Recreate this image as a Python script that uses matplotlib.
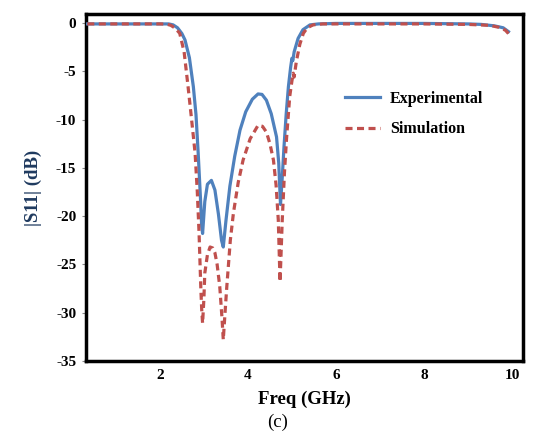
import matplotlib
matplotlib.use('Agg')
import matplotlib.pyplot as plt

plt.rcParams['axes.unicode_minus'] = False

# Experimental |S11|
f_exp = [0.35, 1.0, 2.0, 2.2, 2.3, 2.4, 2.5, 2.57, 2.67, 2.76, 2.82, 2.87, 2.92, 2.95, 2.97,
         3.02, 3.08, 3.17, 3.25, 3.33, 3.40, 3.44, 3.50, 3.59, 3.70, 3.82, 3.95,
         4.10, 4.23, 4.32, 4.42, 4.53, 4.65, 4.70, 4.74, 4.78, 4.82, 4.87, 4.92,
         4.97, 5.00, 5.02, 5.05, 5.14, 5.25, 5.41, 5.6, 6.0, 7.0, 8.0, 9.0, 9.3,
         9.6, 9.8, 9.92]
s_exp = [-0.1, -0.1, -0.1, -0.1, -0.2, -0.5, -1.1, -1.76, -3.6, -6.6, -9.5, -13.5, -18.0, -21.1, -21.8,
         -18.5, -16.7, -16.3, -17.3, -19.8, -22.5, -23.2, -20.5, -16.9, -13.8, -11.1, -9.2,
         -7.9, -7.35, -7.4, -8.0, -9.4, -11.8, -14.5, -18.8, -16.0, -12.8, -9.4, -6.6,
         -4.6, -3.66, -3.9, -3.0, -1.6, -0.7, -0.2, -0.1, -0.05, -0.05, -0.05, -0.1, -0.15,
         -0.3, -0.5, -0.9]

# Simulated |S11|
f_sim = [0.35, 1.0, 2.0, 2.15, 2.25, 2.35, 2.45, 2.55, 2.64, 2.72, 2.80, 2.85, 2.89, 2.93, 2.95,
         2.97, 3.00, 3.02, 3.08, 3.14, 3.20, 3.25, 3.30, 3.36, 3.41, 3.44, 3.48,
         3.52, 3.60, 3.67, 3.78, 3.89, 4.05, 4.23, 4.33, 4.42, 4.50, 4.58, 4.64,
         4.69, 4.73, 4.76, 4.78, 4.83, 4.88, 4.95, 5.0, 5.03, 5.05, 5.10, 5.18,
         5.26, 5.35, 5.48, 5.7, 6.0, 7.0, 8.0, 9.0, 9.5, 9.7, 9.85, 9.92]
s_sim = [-0.1, -0.1, -0.1, -0.12, -0.25, -0.55, -1.07, -3.0, -6.6, -10.0, -13.5, -17.5, -21.8, -27.5, -29.7,
         -31.1, -28.5, -25.9, -24.0, -23.2, -23.3, -23.8, -25.0, -27.3, -30.5, -32.8, -30.0,
         -27.3, -22.5, -19.7, -16.5, -14.2, -12.0, -10.6, -10.7, -11.3, -12.5, -14.2, -16.8,
         -20.4, -26.8, -23.0, -20.4, -15.5, -11.8, -7.6, -6.0, -5.2, -5.6, -4.0, -2.2,
         -1.07, -0.5, -0.2, -0.1, -0.1, -0.1, -0.1, -0.15, -0.25, -0.45, -0.75, -1.1]

fig = plt.figure(figsize=(5.36, 4.32), dpi=100)
ax = fig.add_axes([0.1604, 0.1644, 0.8153, 0.8026])

ax.plot(f_exp, s_exp, color='#4F81BD', lw=2.3, label='Experimental', zorder=3)
ax.plot(f_sim, s_sim, color='#C0504D', lw=2.3, ls=(0, (2.2, 1.4)), label='Simulation', zorder=4)

ax.set_xlim(0.32, 10.25)
ax.set_ylim(-35, 0.9)
ax.set_xticks([2, 4, 6, 8, 10])
ax.set_yticks([0, -5, -10, -15, -20, -25, -30, -35])

for sp in ax.spines.values():
    sp.set_linewidth(2.5)
    sp.set_color('black')

ax.tick_params(axis='x', length=0, pad=6)
ax.tick_params(axis='y', length=3, width=0.8, color='#888888', pad=4)
for lab in ax.get_xticklabels() + ax.get_yticklabels():
    lab.set_fontfamily('Liberation Serif')
    lab.set_fontweight('bold')
    lab.set_fontsize(11)

ax.set_ylabel('|S11| (dB)', fontfamily='Liberation Serif', fontweight='bold',
              fontsize=13.5, color='#1F3A5F', labelpad=10)
ax.set_xlabel('Freq (GHz)', fontfamily='Liberation Serif', fontweight='bold',
              fontsize=13.5, labelpad=6)
fig.text(0.517, 0.022, '(c)', fontfamily='Liberation Serif', fontsize=13.5, ha='center', va='center')

leg = ax.legend(loc='upper left', bbox_to_anchor=(0.56, 0.82), frameon=False,
                handlelength=2.2, handletextpad=0.6, labelspacing=0.9,
                prop={'family': 'Liberation Serif', 'weight': 'bold', 'size': 11.5})

fig.savefig('out.png', dpi=100)
